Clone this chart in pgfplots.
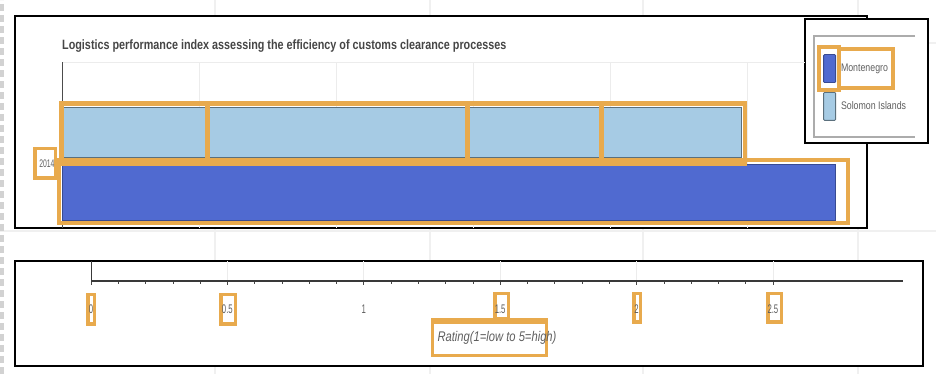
\documentclass[border=0pt]{standalone}
\usepackage{fontspec}
\usepackage{pgfplots}
\pgfplotsset{compat=1.18}
\setmainfont{Liberation Sans}
\newfontfamily\narrow{Liberation Sans}[FakeStretch=0.8]
\newfontfamily\vnarrow{Liberation Sans}[FakeStretch=0.62]
\definecolor{mont}{RGB}{80,106,208}
\definecolor{solo}{RGB}{166,203,228}
\definecolor{orng}{RGB}{232,170,77}
\definecolor{txtgray}{RGB}{95,95,95}
\definecolor{ttlgray}{RGB}{70,70,70}
\newcommand{\obox}[4]{%
  \fill[orng] (#1,374-#2) rectangle (#3,374-#4);
  \fill[white] (#1+3.5,374-#2-3.5) rectangle (#3-3.5,374-#4+3.5);}
\begin{document}
\begin{tikzpicture}[x=1pt,y=1pt]
\path[use as bounding box] (0,0) rectangle (936,374);
\fill[white] (0,0) rectangle (936,374);
% page background lines
\foreach \xx in {215,430,643,858} \draw[gray!12, line width=1.5pt] (\xx,0) -- (\xx,374);
\draw[gray!12, line width=1.5pt] (0,374-231) -- (936,374-231);
\draw[gray!12, line width=1.5pt] (868,374-43) -- (936,374-43);
\draw[gray!35, line width=4pt, dash pattern=on 7pt off 4pt] (2,0) -- (2,374);
% frames
\filldraw[fill=white, draw=black, line width=2pt] (15,374-16) rectangle (867,374-228);
\filldraw[fill=white, draw=black, line width=2pt] (15,374-261) rectangle (923,374-366);
\filldraw[fill=white, draw=black, line width=1.5pt] (805,374-19) rectangle (928,374-143);
\draw[gray!65, line width=1.5pt] (915,374-36) -- (814,374-36) -- (814,374-137) -- (915,374-137);
\draw[gray!15, line width=0.8pt] (62,374-62) -- (805,374-62);
% orange label boxes
\obox{33}{147}{57}{180}
\obox{86}{293}{96}{326}
\obox{219}{293}{237}{326}
\obox{632}{292}{642}{324}
\obox{766}{292}{783}{324}
\fill[orng] (431,374-318) rectangle (548,374-357);
\fill[white] (434,374-324) rectangle (545,374-354);
\obox{493}{292}{510}{321}
% top chart
\begin{axis}[
  at={(62pt,146pt)}, anchor=south west, scale only axis,
  width=803pt, height=166pt,
  xmin=0, xmax=2.93, ymin=0, ymax=166,
  xbar,
  axis lines*=left,
  axis line style={-},
  x axis line style={draw=none},
  y axis line style={gray!60!black, line width=0.8pt},
  xtick={0,0.5,1,1.5,2,2.5}, xticklabels=\empty,
  xtick style={draw=none},
  xmajorgrids, major grid style={gray!15, line width=0.8pt},
  ytick={64}, yticklabels={2014},
  ytick style={black, line width=0.6pt},
  tick align=outside, major tick length=3pt,
  yticklabel style={font=\vnarrow\fontsize{11}{11}\selectfont, text=txtgray, xshift=-1pt},
  title={Logistics performance index assessing the efficiency of customs clearance processes},
  title style={at={(0,1.06)}, anchor=west, inner sep=0pt,
    font=\narrow\bfseries\fontsize{13.5}{13.5}\selectfont, text=ttlgray},
  legend style={at={(0.9477,1.0482)}, anchor=north west, draw=none, fill=none,
    font=\narrow\fontsize{11}{11}\selectfont, text=txtgray,
    inner sep=0pt, row sep=9pt, nodes={inner sep=0pt}},
  legend cell align=left,
  legend image code/.code={\draw[#1, rounded corners=1pt, line width=0.8pt] (0pt,-14pt) rectangle (12pt,14pt);},
]
\addplot[fill=mont, draw=mont!70!black, line width=0.6pt, bar width=56, bar shift=-28] coordinates {(2.82,64)};
\addplot[fill=solo, draw=solo!55!black, line width=0.6pt, bar width=50, bar shift=32] coordinates {(2.48,64)};
\legend{\hspace{5pt}Montenegro, \hspace{5pt}Solomon Islands}
\end{axis}
% bottom axis
\begin{axis}[
  at={(91pt,93pt)}, anchor=south west, scale only axis,
  width=812pt, height=20pt,
  xmin=0, xmax=2.977, ymin=0, ymax=1,
  axis x line=bottom, axis y line=left,
  axis line style={-},
  x axis line style={gray!45!black, line width=1.2pt},
  y axis line style={gray!45!black, line width=0.8pt},
  ytick=\empty,
  xtick={0,0.5,1,1.5,2,2.5},
  xticklabels={0,0.5,1,1.5,2,2.5},
  minor x tick num=4,
  xmajorgrids, major grid style={gray!15, line width=0.8pt},
  tick align=outside, major tick length=4pt, minor tick length=3pt,
  tick style={gray!55!black, line width=0.6pt},
  xticklabel style={font=\vnarrow\fontsize{12.5}{12.5}\selectfont, text=txtgray, yshift=-16pt},
  xlabel={Rating(1=low to 5=high)},
  xlabel style={at={(axis description cs:0.5,-2.85)}, anchor=center,
    font=\narrow\itshape\fontsize{14}{14}\selectfont, text=txtgray},
]
\addplot[draw=none, forget plot] coordinates {(0,0)};
\end{axis}
% orange annotation strokes
\begin{scope}[orng, line width=4.5pt]
\draw (59,374-160) rectangle (848,374-223);
\draw (61.5,374-103.5) rectangle (207.5,374-164);
\draw (207.5,374-103.5) rectangle (467.5,374-164);
\draw (467.5,374-103.5) rectangle (601.5,374-164);
\draw (601.5,374-103.5) rectangle (745,374-164);
\end{scope}
\draw[orng, line width=3.5pt] (819,374-47) rectangle (839,374-90);
\draw[orng, line width=3.5pt] (839,374-49) rectangle (893,374-88);
\end{tikzpicture}
\end{document}
